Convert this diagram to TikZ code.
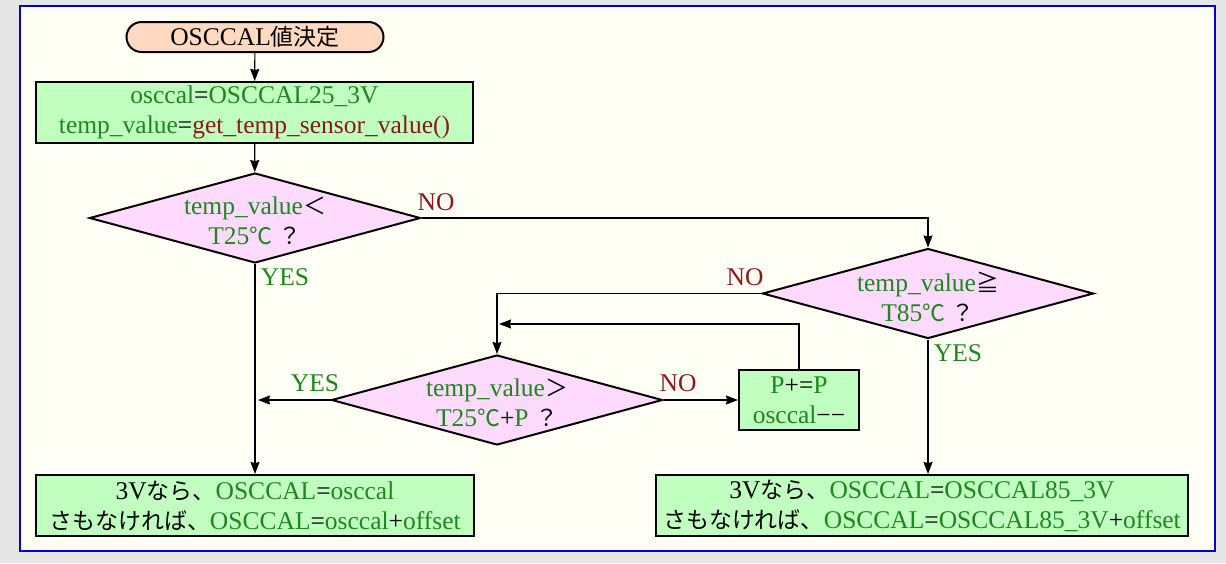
\documentclass[tikz,border=0pt]{standalone}
\usepackage{fontspec}
\setmainfont{Liberation Serif}
\newfontfamily\jpfont[Scale=0.9]{Noto Sans CJK JP}
\newcommand\J[1]{{\jpfont #1}}
\usetikzlibrary{arrows.meta,shapes.geometric}
\definecolor{gtxt}{RGB}{30,135,30}
\definecolor{rtxt}{RGB}{140,25,25}
\definecolor{bgout}{RGB}{230,230,230}
\definecolor{bgin}{RGB}{255,255,245}
\definecolor{framec}{RGB}{0,0,210}
\definecolor{boxg}{RGB}{192,255,192}
\definecolor{diap}{RGB}{255,218,255}
\definecolor{termp}{RGB}{255,218,192}
\newcommand\GR[1]{\textcolor{gtxt}{#1}}
\newcommand\RD[1]{\textcolor{rtxt}{#1}}
\begin{document}
\begin{tikzpicture}[x=1pt,y=-1pt,font=\fontsize{25.5}{30}\selectfont,
  proc/.style={draw=black,line width=2pt,fill=boxg,inner sep=0pt,align=center},
  dia/.style={draw=black,line width=2pt,fill=diap,shape=diamond,inner sep=0pt,minimum width=331pt,minimum height=90pt},
  dtext/.style={inner sep=0pt,align=center},
  term/.style={draw=black,line width=2pt,fill=termp,rounded corners=15pt,inner sep=0pt,minimum width=257pt,minimum height=30pt},
  arr/.style={line width=1.2pt,-{Stealth[length=12pt,width=9pt,inset=1pt]}},
  lab/.style={inner sep=0pt}]
\useasboundingbox (0,0) rectangle (1226,563);
\fill[bgout] (0,0) rectangle (1226,563);
\draw[framec,line width=2pt,fill=bgin] (20,6) rectangle (1215,551);

\node[term] (start) at (255,37) {OSCCAL\J{値決定}};
\node[proc,minimum width=437pt,minimum height=61pt] (init) at (254.5,112.5)
  {\GR{osccal}=\GR{OSCCAL25\_3V}\\\GR{temp\_value}=\RD{get\_temp\_sensor\_value()}};

\node[dia] (d1) at (255,218) {};
\node[dtext] (d1t) at ([yshift=-3pt]d1.center) {\GR{temp\_value}\J{＜}\\\GR{T25\J{℃}}\ \J{？}};
\node[dia] (d2) at (928,293.5) {};
\node[dtext] (d2t) at ([yshift=-3pt]d2.center) {\GR{temp\_value}\J{≧}\\\GR{T85\J{℃}}\ \J{？}};
\node[dia] (d3) at (497,400) {};
\node[dtext] (d3t) at ([yshift=-3pt]d3.center) {\GR{temp\_value}\J{＞}\\\GR{T25\J{℃}}+\GR{P}\ \J{？}};

\node[proc,minimum width=120pt,minimum height=60pt] (pbox) at (799,400)
  {\GR{P}+=\GR{P}\\\GR{osccal}−−};
\node[proc,minimum width=438pt,minimum height=61pt] (bl) at (255,505.5)
  {3V\J{なら、}\GR{OSCCAL}=\GR{osccal}\\\J{さもなければ、}\GR{OSCCAL}=\GR{osccal}+\GR{offset}};
\node[proc,minimum width=532pt,minimum height=61pt] (br) at (922,505.5)
  {3V\J{なら、}\GR{OSCCAL}=\GR{OSCCAL85\_3V}\\\J{さもなければ、}\GR{OSCCAL}=\GR{OSCCAL85\_3V}+\GR{offset}};

\coordinate (yes3) at (258,400);
\coordinate (loop) at (499,324);

\draw[arr] (start) -- (init);
\draw[arr] (init) -- (d1);
\draw[arr] (d1.east) -| (d2.north);
\draw[arr] (d1.south) -- (bl.north);
\draw[arr] (d2.south) -- (d2.south |- br.north);
\draw[arr] (d2.west) -| (d3.north);
\draw[arr] (d3.east) -- (pbox.west);
\draw[arr] (d3.west) -- (yes3);
\draw[arr] (pbox.north) |- (loop);

\node[lab,text=rtxt] (no1) at (436,202) {NO};
\node[lab,text=gtxt] (yes1) at (285,277) {YES};
\node[lab,text=rtxt] (no2) at (745,277) {NO};
\node[lab,text=gtxt] (yes2) at (958,353) {YES};
\node[lab,text=gtxt] (yes4) at (315,383) {YES};
\node[lab,text=rtxt] (no3) at (678,383) {NO};
\end{tikzpicture}
\end{document}
